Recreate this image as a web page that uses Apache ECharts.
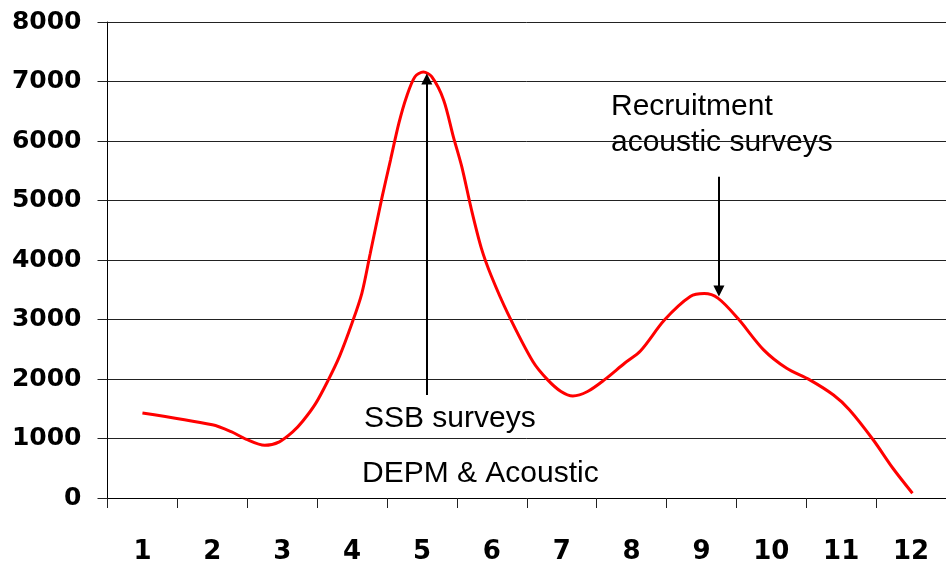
<!DOCTYPE html>
<html>
<head>
<meta charset="utf-8">
<script src="https://cdn.jsdelivr.net/npm/echarts@6/dist/echarts.min.js"></script>
<style>
  html, body { margin: 0; padding: 0; background: #fff; }
  #chart { width: 946px; height: 570px; }
</style>
</head>
<body>
<div id="chart"></div>
<script>
// months on the category axis
const categories = ['1', '2', '3', '4', '5', '6', '7', '8', '9', '10', '11', '12'];
const yTicks = [0, 1000, 2000, 3000, 4000, 5000, 6000, 7000, 8000];

// curve: month position (fractional) and value
const curveX = [1.0, 2.0, 2.27, 2.48, 2.75, 2.96, 3.15, 3.29, 3.48, 3.65, 3.82, 4.0, 4.14, 4.26, 4.43, 4.55,
  4.67, 4.78, 4.9, 5.02, 5.14, 5.31, 5.45, 5.57, 5.71, 5.85, 5.99, 6.23, 6.59, 6.8, 6.99, 7.16, 7.37,
  7.61, 7.9, 8.13, 8.47, 8.84, 9.04, 9.24, 9.52, 9.89, 10.22, 10.55, 10.89, 11.12, 11.46, 11.74, 12.02];
const curveY = [1430, 1230, 1115, 990, 885, 945, 1110, 1285, 1590, 1960, 2380, 2940, 3440, 4110, 5060, 5680,
  6300, 6745, 7080, 7160, 7080, 6690, 6070, 5570, 4840, 4200, 3740, 3100, 2290, 1985, 1790, 1715, 1790,
  1985, 2265, 2475, 2990, 3385, 3435, 3355, 3020, 2490, 2180, 1985, 1730, 1480, 975, 500, 80];

// annotation arrows: [x, yFrom, yTo]
const arrows = [[5.07, 1730, 7040], [9.25, 5400, 3480]];
const notes = ['SSB surveys', 'DEPM & Acoustic', 'Recruitment', 'acoustic surveys'];

const chart = echarts.init(document.getElementById('chart'));

const noteStyle = (text, x, y) => ({
  type: 'text',
  left: x,
  top: y,
  style: {
    text: text,
    fill: '#000',
    font: '30px "Liberation Sans", Arial, sans-serif'
  }
});

const option = {
  animation: false,
  grid: {
    left: 107.5,
    right: -4,
    top: 22,
    bottom: 72
  },
  xAxis: [
    {
      type: 'category',
      data: categories,
      boundaryGap: true,
      axisLine: { lineStyle: { color: '#000', width: 1 } },
      axisTick: { show: true, length: 10, lineStyle: { color: '#222' } },
      axisLabel: {
        margin: 41,
        color: '#000',
        fontFamily: 'DejaVu Sans',
        fontWeight: 'bold',
        fontSize: 26
      },
      splitLine: { show: false }
    },
    {
      type: 'value',
      min: 0.5,
      max: 12.5,
      show: false
    }
  ],
  yAxis: {
    type: 'value',
    min: yTicks[0],
    max: yTicks[yTicks.length - 1],
    interval: 1000,
    axisLine: { show: true, lineStyle: { color: '#000', width: 1 } },
    axisTick: { show: true, length: 10, lineStyle: { color: '#222' } },
    axisLabel: {
      margin: 26,
      color: '#000',
      fontFamily: 'DejaVu Sans',
      fontWeight: 'bold',
      fontSize: 25,
      formatter: v => String(v)
    },
    splitLine: { lineStyle: { color: '#222', width: 1 } }
  },
  series: [
    {
      type: 'line',
      xAxisIndex: 1,
      data: curveX.map((x, i) => [x, curveY[i]]),
      smooth: 0.3,
      symbol: 'none',
      lineStyle: { color: '#ff0000', width: 3 },
      markLine: {
        silent: true,
        symbol: ['none', 'triangle'],
        symbolSize: 11,
        label: { show: false },
        lineStyle: { color: '#000', width: 2, type: 'solid' },
        data: arrows.map(a => [{ coord: [a[0], a[1]] }, { coord: [a[0], a[2]] }])
      }
    }
  ],
  graphic: [
    noteStyle(notes[0], 364, 404),
    noteStyle(notes[1], 362, 459),
    noteStyle(notes[2], 611, 92),
    noteStyle(notes[3], 611, 128)
  ]
};

chart.setOption(option);
</script>
</body>
</html>
